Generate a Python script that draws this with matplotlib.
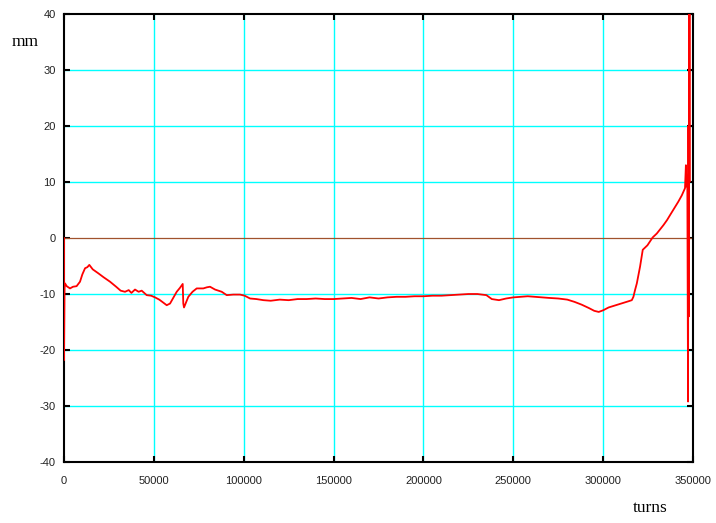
import matplotlib
matplotlib.use("Agg")
import matplotlib.pyplot as plt

# orbit position readings (turns, mm)
turns = [0, 0, 300, 556, 1500, 3340, 5000, 7000, 8900, 10200,
         11700, 13000, 14080, 16000, 19080, 22000, 25600, 29000, 31500, 33940,
         36000, 37500, 39500, 41500, 43230, 46000, 48500, 50640, 53000, 55500,
         57140, 59000, 62700, 64500, 66040, 66370, 66760, 69160, 71500, 73830,
         77500, 79500, 81240, 84020, 87750, 90530, 94200, 97930, 100500, 103500,
         107000, 111000, 115000, 120000, 125000, 130000, 135000, 140000, 145000, 150000,
         155000, 160000, 165000, 170000, 175000, 180000, 185000, 190000, 195000, 200000,
         205000, 210000, 215000, 220000, 225000, 230000, 235000, 238000, 242000, 246000,
         250000, 254000, 258000, 262000, 266000, 270000, 275000, 280000, 284000, 288000,
         292000, 295000, 297500, 300000, 303000, 307000, 311000, 314000, 315900, 316800,
         317700, 318700, 320500, 322000, 324600, 327500, 329800, 333500, 335500, 337200,
         339500, 341800, 343700, 345500, 346000, 346300, 346800, 347200, 347400, 347600,
         347800, 348000, 348200]
pos_mm = [0.0, -21.8, -9.0, -8.1, -8.6, -9.0, -8.7, -8.6, -7.8, -6.5,
          -5.4, -5.2, -4.8, -5.6, -6.3, -7.0, -7.8, -8.7, -9.4, -9.6,
          -9.3, -9.8, -9.2, -9.6, -9.4, -10.2, -10.3, -10.6, -11.0, -11.6,
          -12.0, -11.7, -9.6, -8.9, -8.2, -11.7, -12.4, -10.5, -9.6, -9.0,
          -9.0, -8.8, -8.7, -9.2, -9.6, -10.2, -10.1, -10.1, -10.3, -10.8,
          -10.9, -11.1, -11.2, -11.0, -11.1, -10.9, -10.9, -10.8, -10.9, -10.9,
          -10.8, -10.7, -10.9, -10.6, -10.8, -10.6, -10.5, -10.5, -10.4, -10.4,
          -10.3, -10.3, -10.2, -10.1, -10.0, -10.0, -10.2, -10.9, -11.1, -10.8,
          -10.6, -10.5, -10.4, -10.5, -10.6, -10.7, -10.8, -11.0, -11.4, -11.9,
          -12.5, -13.0, -13.2, -12.9, -12.4, -12.0, -11.6, -11.3, -11.1, -10.5,
          -9.3, -8.1, -5.1, -2.1, -1.3, 0.1, 0.8, 2.3, 3.2, 4.1,
          5.3, 6.5, 7.6, 8.9, 13.0, 9.2, 9.8, -29.2, 20.0, -14.0,
          45.0, 10.0, 45.0]

xticks = [0, 50000, 100000, 150000, 200000, 250000, 300000, 350000]
yticks = [-40, -30, -20, -10, 0, 10, 20, 30, 40]

fig = plt.figure(figsize=(7.16, 5.23), dpi=100)
ax = fig.add_axes([0.0894, 0.1166, 0.8786, 0.8566])

for x in xticks[1:-1]:
    ax.axvline(x, color="#00ffff", lw=1.0, zorder=1)
for y in yticks[1:-1]:
    if y != 0:
        ax.axhline(y, color="#00ffff", lw=1.0, zorder=1)
ax.axhline(0, color="#a0522d", lw=0.9, zorder=2)

ax.plot(turns, pos_mm, color="red", lw=1.3, zorder=3)

ax.set_xlim(0, 350000)
ax.set_ylim(-40, 40)
ax.set_xticks(xticks)
ax.set_yticks(yticks)
ax.set_xticklabels([str(v) for v in xticks], fontsize=8, family="Liberation Sans")
ax.set_yticklabels([str(v) for v in yticks], fontsize=8, family="Liberation Sans")
ax.tick_params(direction="in", length=4, width=1.5, top=True, right=True,
               colors="black", labelcolor="#222222")
ax.tick_params(axis="x", pad=10)
ax.tick_params(axis="y", pad=6)
for s in ax.spines.values():
    s.set_linewidth(1.5)

fig.text(12 / 716, 1 - 42 / 523, "mm", fontsize=12.5, family="Liberation Serif",
         ha="left", va="center")
fig.text(650 / 716, 1 - 508 / 523, "turns", fontsize=12.5, family="Liberation Serif",
         ha="center", va="center")

fig.savefig("out.png", dpi=100)
